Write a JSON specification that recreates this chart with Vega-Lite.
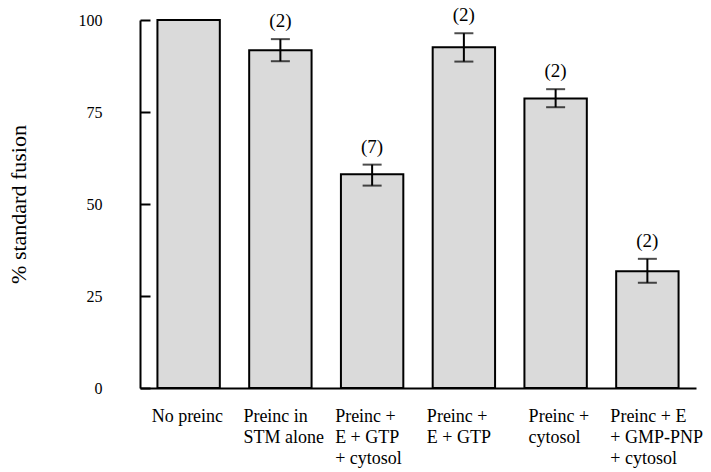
{
  "$schema": "https://vega.github.io/schema/vega-lite/v6.json",
  "width": 556,
  "height": 368,
  "autosize": {"type": "none"},
  "padding": {"left": 140, "top": 20, "right": 15, "bottom": 84},
  "background": "white",
  "config": {
    "view": {"stroke": null},
    "font": "Liberation Serif",
    "axis": {"grid": false, "domainColor": "black", "tickColor": "black", "labelColor": "black", "titleColor": "black", "labelFont": "Liberation Serif", "titleFont": "Liberation Serif"}
  },
  "data": {
    "values": [
      {"condition": "No preinc", "fusion": 100, "lo": null, "hi": null, "n": null},
      {"condition": "Preinc  in\nSTM alone", "fusion": 91.8, "lo": 88.8, "hi": 94.8, "n": "(2)"},
      {"condition": "Preinc +\nE + GTP\n+ cytosol", "fusion": 58.1, "lo": 55.0, "hi": 60.7, "n": "(7)"},
      {"condition": "Preinc +\nE + GTP", "fusion": 92.6, "lo": 88.7, "hi": 96.4, "n": "(2)"},
      {"condition": "Preinc +\ncytosol", "fusion": 78.7, "lo": 76.3, "hi": 81.2, "n": "(2)"},
      {"condition": "Preinc + E\n+ GMP-PNP\n+ cytosol", "fusion": 31.7, "lo": 28.6, "hi": 35.1, "n": "(2)"}
    ]
  },
  "encoding": {
    "x": {
      "field": "condition",
      "type": "nominal",
      "sort": null,
      "scale": {"paddingInner": 0.32, "paddingOuter": 0.19},
      "axis": {
        "title": null,
        "labelAngle": 0,
        "ticks": false,
        "domainWidth": 2,
        "labelFont": "Liberation Serif",
        "labelFontSize": 18,
        "labelFontWeight": "normal",
        "labelLineHeight": 21,
        "labelPadding": 19,
        "labelBaseline": "top",
        "labelAlign": "left",
        "labelOffset": {"condition": {"test": "datum.value == 'Preinc +\\ncytosol'", "value": -27}, "value": -37},
        "labelExpr": "split(datum.label, '\\n')",
        "labelLimit": 0
      }
    }
  },
  "layer": [
    {
      "mark": {"type": "bar", "fill": "#dadada", "stroke": "black", "strokeWidth": 2},
      "encoding": {
        "y": {
          "field": "fusion",
          "type": "quantitative",
          "scale": {"domain": [0, 100], "nice": false},
          "axis": {
            "title": "% standard fusion",
            "titleFont": "Liberation Serif",
            "titleFontSize": 22,
            "titleFontWeight": "normal",
            "titlePadding": 48,
            "values": [0, 25, 50, 75, 100],
            "tickSize": -10,
            "tickWidth": 2,
            "domainWidth": 2,
            "labelFont": "Liberation Serif",
            "labelFontSize": 16,
            "labelPadding": 48
          }
        }
      }
    },
    {
      "transform": [{"filter": "datum.hi != null"}],
      "mark": {"type": "rule", "color": "black", "strokeWidth": 2},
      "encoding": {"y": {"field": "lo", "type": "quantitative"}, "y2": {"field": "hi"}}
    },
    {
      "transform": [{"filter": "datum.hi != null"}],
      "mark": {"type": "tick", "color": "black", "thickness": 2, "size": 19},
      "encoding": {"y": {"field": "hi", "type": "quantitative"}}
    },
    {
      "transform": [{"filter": "datum.hi != null"}],
      "mark": {"type": "tick", "color": "black", "thickness": 2, "size": 19},
      "encoding": {"y": {"field": "lo", "type": "quantitative"}}
    },
    {
      "transform": [{"filter": "datum.n != null"}],
      "mark": {"type": "text", "fontSize": 19, "baseline": "middle", "dy": -18, "color": "black", "font": "Liberation Serif"},
      "encoding": {"y": {"field": "hi", "type": "quantitative"}, "text": {"field": "n"}}
    }
  ]
}
